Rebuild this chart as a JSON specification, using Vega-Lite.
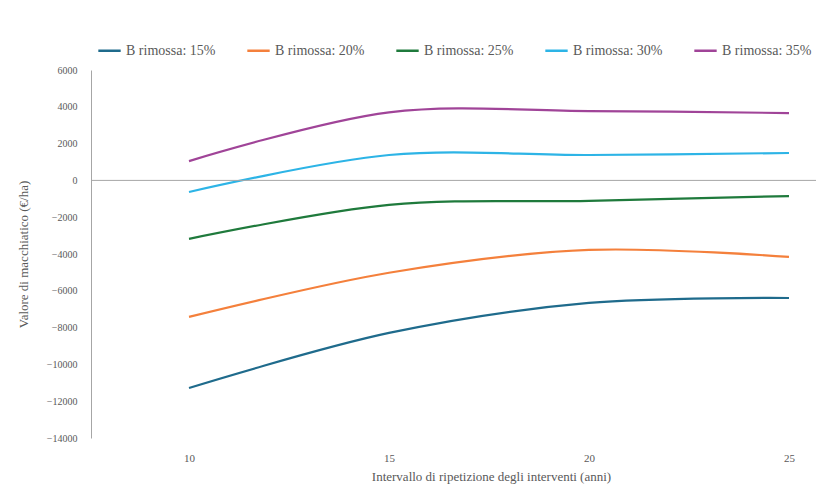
{
  "$schema": "https://vega.github.io/schema/vega-lite/v6.json",
  "width": 725,
  "height": 368,
  "autosize": "none",
  "padding": {"left": 91, "top": 70, "right": 0, "bottom": 49},
  "background": "white",
  "config": {
    "view": {"stroke": null},
    "font": "Liberation Serif",
    "axis": {"labelOverlap": false}
  },
  "data": {
    "values": [
      {"anni": 10, "valore": -11280, "serie": "B rimossa: 15%"},
      {"anni": 15, "valore": -8290, "serie": "B rimossa: 15%"},
      {"anni": 20, "valore": -6660, "serie": "B rimossa: 15%"},
      {"anni": 25, "valore": -6390, "serie": "B rimossa: 15%"},
      {"anni": 10, "valore": -7420, "serie": "B rimossa: 20%"},
      {"anni": 15, "valore": -5020, "serie": "B rimossa: 20%"},
      {"anni": 20, "valore": -3780, "serie": "B rimossa: 20%"},
      {"anni": 25, "valore": -4160, "serie": "B rimossa: 20%"},
      {"anni": 10, "valore": -3180, "serie": "B rimossa: 25%"},
      {"anni": 15, "valore": -1330, "serie": "B rimossa: 25%"},
      {"anni": 20, "valore": -1110, "serie": "B rimossa: 25%"},
      {"anni": 25, "valore": -850, "serie": "B rimossa: 25%"},
      {"anni": 10, "valore": -630, "serie": "B rimossa: 30%"},
      {"anni": 15, "valore": 1380, "serie": "B rimossa: 30%"},
      {"anni": 20, "valore": 1380, "serie": "B rimossa: 30%"},
      {"anni": 25, "valore": 1490, "serie": "B rimossa: 30%"},
      {"anni": 10, "valore": 1050, "serie": "B rimossa: 35%"},
      {"anni": 15, "valore": 3700, "serie": "B rimossa: 35%"},
      {"anni": 20, "valore": 3770, "serie": "B rimossa: 35%"},
      {"anni": 25, "valore": 3660, "serie": "B rimossa: 35%"}
    ]
  },
  "layer": [
    {
      "mark": {"type": "line", "interpolate": "catmull-rom", "strokeWidth": 2.2},
      "encoding": {
        "x": {
          "field": "anni", "type": "quantitative",
          "scale": {"domain": [7.55, 25.675], "nice": false, "zero": false},
          "axis": {
            "values": [10, 15, 20, 25], "format": "d", "domain": false, "ticks": false, "grid": false,
            "labelPadding": 14, "labelFontSize": 11, "labelColor": "#595959", "labelFont": "Liberation Serif",
            "title": "Intervallo di ripetizione degli interventi (anni)",
            "titleFontSize": 13, "titleFontWeight": "normal", "titleColor": "#595959", "titleFont": "Liberation Serif",
            "titlePadding": 7, "titleX": 400
          }
        },
        "y": {
          "field": "valore", "type": "quantitative",
          "scale": {"domain": [-14000, 6000], "nice": false},
          "axis": {
            "values": [6000, 4000, 2000, 0, -2000, -4000, -6000, -8000, -10000, -12000, -14000],
            "format": "d", "grid": false, "ticks": false, "domainColor": "#a6a6a6", "labelOverlap": false,
            "labelPadding": 14, "labelFontSize": 10, "labelColor": "#595959", "labelFont": "Liberation Serif",
            "title": "Valore di macchiatico (€/ha)",
            "titleFontSize": 13, "titleFontWeight": "normal", "titleColor": "#595959", "titleFont": "Liberation Serif",
            "titlePadding": 16
          }
        },
        "color": {
          "field": "serie", "type": "nominal",
          "scale": {
            "domain": ["B rimossa: 15%", "B rimossa: 20%", "B rimossa: 25%", "B rimossa: 30%", "B rimossa: 35%"],
            "range": ["#1f6b8c", "#f4803c", "#1f7a3c", "#2db4e6", "#a04498"]
          },
          "legend": {
            "title": null, "orient": "none", "direction": "horizontal", "columns": 5,
            "legendX": 6, "legendY": -32,
            "symbolType": "stroke", "symbolSize": 500, "symbolStrokeWidth": 2.5,
            "labelFontSize": 14, "labelColor": "#595959", "labelFont": "Liberation Serif",
            "columnPadding": 26, "labelOffset": 4
          }
        }
      }
    },
    {
      "data": {"values": [{"zero": 0}]},
      "mark": {"type": "rule", "color": "#a6a6a6", "strokeWidth": 1},
      "encoding": {
        "y": {
          "field": "zero", "type": "quantitative",
          "scale": {"domain": [-14000, 6000], "nice": false},
          "axis": {
            "values": [6000, 4000, 2000, 0, -2000, -4000, -6000, -8000, -10000, -12000, -14000],
            "format": "d", "grid": false, "ticks": false, "domainColor": "#a6a6a6", "labelOverlap": false,
            "labelPadding": 14, "labelFontSize": 10, "labelColor": "#595959", "labelFont": "Liberation Serif",
            "title": "Valore di macchiatico (€/ha)",
            "titleFontSize": 13, "titleFontWeight": "normal", "titleColor": "#595959", "titleFont": "Liberation Serif",
            "titlePadding": 16
          }
        }
      }
    }
  ]
}
